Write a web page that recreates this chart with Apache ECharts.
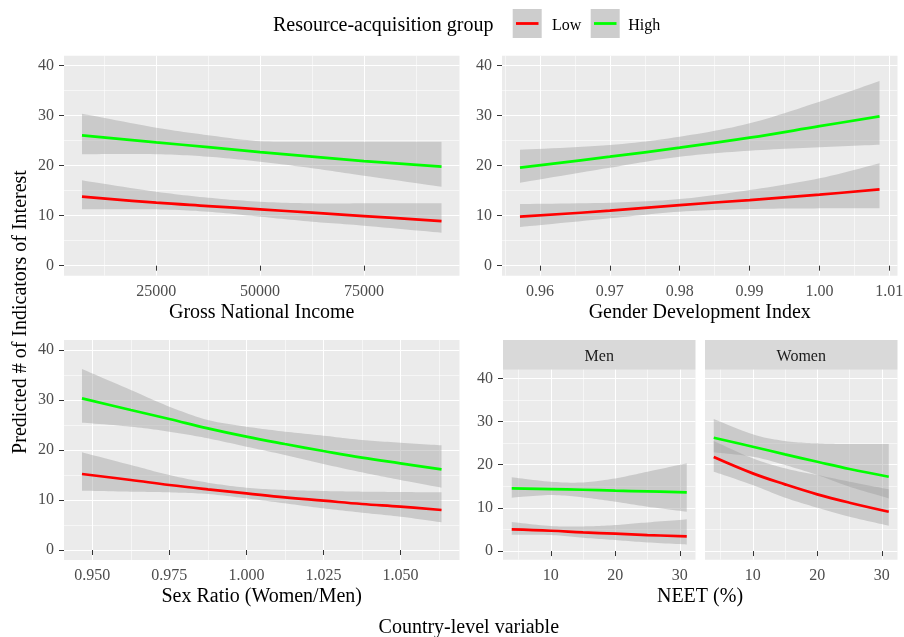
<!DOCTYPE html>
<html><head><meta charset="utf-8">
<script src="https://cdn.jsdelivr.net/npm/echarts@6/dist/echarts.min.js"></script>
<style>html,body{margin:0;padding:0;background:#fff}#chart{width:904px;height:637px}</style>
</head><body><div id="chart"></div>
<script>
// ---------- DATA ----------
// Panel: Gross National Income
const gniX        = [7130, 25000, 37500, 50000, 62500, 75000, 93670];
const gniLowFit   = [13.8, 12.6, 11.93, 11.27, 10.6, 9.93, 8.93];
const gniLowLwr   = [11.27, 11.27, 10.8, 9.8, 8.8, 8.0, 6.6];
const gniLowUpr   = [17.07, 14.8, 13.6, 12.8, 12.47, 12.47, 12.47];
const gniHighFit  = [26.07, 24.67, 23.7, 22.73, 21.8, 20.93, 19.8];
const gniHighLwr  = [22.3, 22.3, 21.8, 20.8, 19.5, 18.0, 15.8];
const gniHighUpr  = [30.4, 27.6, 26.1, 24.9, 24.8, 24.8, 24.8];

// Panel: Gender Development Index
const gdiX        = [0.95714, 0.97, 0.98, 0.99, 1.00, 1.00859];
const gdiLowFit   = [9.8, 11.0, 12.13, 13.13, 14.2, 15.27];
const gdiLowLwr   = [7.73, 9.47, 10.8, 11.33, 11.47, 11.47];
const gdiLowUpr   = [12.33, 12.6, 13.33, 15.13, 17.47, 20.47];
const gdiHighFit  = [19.6, 21.8, 23.6, 25.6, 27.9, 29.87];
const gdiHighLwr  = [16.6, 19.6, 21.8, 23.0, 23.67, 24.2];
const gdiHighUpr  = [23.2, 24.13, 25.8, 28.47, 32.8, 36.93];

// Panel: Sex Ratio (Women/Men)
const sexX        = [0.94664, 0.9625, 0.975, 0.9875, 1.0, 1.0125, 1.025, 1.0375, 1.05, 1.06334];
const sexLowFit   = [15.2, 14.0, 13.0, 12.13, 11.33, 10.53, 9.87, 9.2, 8.67, 8.0];
const sexLowLwr   = [11.87, 11.67, 11.53, 11.2, 10.33, 9.33, 8.33, 7.47, 6.67, 5.53];
const sexLowUpr   = [19.53, 17.0, 15.0, 13.47, 12.47, 12.0, 11.8, 11.67, 11.6, 11.53];
const sexHighFit  = [30.33, 28.0, 26.2, 24.33, 22.67, 21.2, 19.8, 18.47, 17.33, 16.13];
const sexHighLwr  = [25.47, 24.67, 23.67, 22.33, 20.67, 19.0, 17.2, 15.53, 14.0, 12.47];
const sexHighUpr  = [36.2, 32.0, 28.67, 26.0, 24.67, 23.67, 22.87, 22.0, 21.47, 20.93];

// Panel: NEET (%), facets Men / Women
const neetX          = [3.95, 10, 15, 20, 25, 31.08];
const menLowFit      = [5.02, 4.71, 4.32, 4.02, 3.71, 3.4];
const menLowLwr      = [3.78, 3.71, 3.09, 2.55, 2.0, 1.54];
const menLowUpr      = [6.72, 5.79, 5.71, 6.02, 6.64, 7.34];
const menHighFit     = [14.52, 14.36, 14.2, 13.98, 13.82, 13.59];
const menHighLwr     = [12.36, 12.97, 12.43, 11.43, 10.27, 9.11];
const menHighUpr     = [17.07, 16.06, 15.9, 16.83, 18.38, 20.31];
const womenLowFit    = [21.78, 17.99, 15.44, 13.13, 11.2, 9.11];
const womenLowLwr    = [18.38, 15.29, 12.36, 10.04, 7.95, 5.87];
const womenLowUpr    = [25.48, 21.47, 19.15, 17.61, 16.06, 14.29];
const womenHighFit   = [26.25, 24.17, 22.39, 20.69, 19.0, 17.22];
const womenHighLwr   = [22.86, 21.85, 19.92, 17.61, 14.9, 12.2];
const womenHighUpr   = [30.58, 27.03, 25.48, 24.94, 24.79, 24.79];

// Tick values
const yMajor    = [0, 10, 20, 30, 40];
const yMinor    = [5, 15, 25, 35];
const gniMajor  = [25000, 50000, 75000];
const gniMinor  = [12500, 37500, 62500, 87500];
const gdiMajor  = [0.96, 0.97, 0.98, 0.99, 1.00, 1.01];
const gdiMinor  = [0.955, 0.965, 0.975, 0.985, 0.995, 1.005];
const sexMajor  = [0.950, 0.975, 1.000, 1.025, 1.050];
const sexMinor  = [0.9625, 0.9875, 1.0125, 1.0375, 1.0625];
const neetMajor = [10, 20, 30];
const neetMinor = [5, 15, 25];

const groups = ['Low', 'High'];
const facets = ['Men', 'Women'];

// ---------- CHART ----------
const FONT = "'Liberation Serif', 'Times New Roman', serif";
const RED = '#FF0000', GREEN = '#00FF00';

const panels = [
  {grid:{left:64, top:55.7, width:395.5, height:220}, xMin:2803, xMax:97997, xMajor:gniMajor, xMinor:gniMinor, fmt:v=>String(Math.round(v)), yLab:true,
   x:gniX, low:[gniLowFit,gniLowLwr,gniLowUpr], high:[gniHighFit,gniHighLwr,gniHighUpr]},
  {grid:{left:502, top:55.7, width:395.5, height:220}, xMin:0.954568, xMax:1.011163, xMajor:gdiMajor, xMinor:gdiMinor, fmt:v=>v.toFixed(2), yLab:true,
   x:gdiX, low:[gdiLowFit,gdiLowLwr,gdiLowUpr], high:[gdiHighFit,gdiHighLwr,gdiHighUpr]},
  {grid:{left:64, top:340, width:395.5, height:220}, xMin:0.940805, xMax:1.069175, xMajor:sexMajor, xMinor:sexMinor, fmt:v=>v.toFixed(3), yLab:true,
   x:sexX, low:[sexLowFit,sexLowLwr,sexLowUpr], high:[sexHighFit,sexHighLwr,sexHighUpr]},
  {grid:{left:503, top:369.7, width:192.5, height:190}, xMin:2.5935, xMax:32.4365, xMajor:neetMajor, xMinor:neetMinor, fmt:v=>String(Math.round(v)), yLab:true,
   x:neetX, low:[menLowFit,menLowLwr,menLowUpr], high:[menHighFit,menHighLwr,menHighUpr]},
  {grid:{left:705, top:369.7, width:192.5, height:190}, xMin:2.5935, xMax:32.4365, xMajor:neetMajor, xMinor:neetMinor, fmt:v=>String(Math.round(v)), yLab:false,
   x:neetX, low:[womenLowFit,womenLowLwr,womenLowUpr], high:[womenHighFit,womenHighLwr,womenHighUpr]}
];

// Catmull-Rom smoothing of a pixel-space polyline (rendering only)
function smoothPts(pts) {
  const out = [];
  const n = pts.length;
  for (let i = 0; i < n - 1; i++) {
    const p0 = pts[Math.max(0, i - 1)], p1 = pts[i], p2 = pts[i + 1], p3 = pts[Math.min(n - 1, i + 2)];
    const steps = 12;
    for (let s = 0; s < steps; s++) {
      const t = s / steps, t2 = t * t, t3 = t2 * t;
      const f = (a, b, c, d) => 0.5 * ((2 * b) + (-a + c) * t + (2 * a - 5 * b + 4 * c - d) * t2 + (-a + 3 * b - 3 * c + d) * t3);
      out.push([f(p0[0], p1[0], p2[0], p3[0]), f(p0[1], p1[1], p2[1], p3[1])]);
    }
  }
  out.push(pts[n - 1]);
  return out;
}

function bandRender(params, api) {
  if (params.dataIndexInside !== 0) return null;
  const n = params.dataInsideLength;
  const up = [], lo = [];
  for (let j = 0; j < n; j++) {
    const x = api.value(0, j);
    up.push(api.coord([x, api.value(2, j)]));
    lo.push(api.coord([x, api.value(1, j)]));
  }
  const poly = smoothPts(up).concat(smoothPts(lo).reverse());
  return {type:'polygon', shape:{points:poly}, style:{fill:'rgba(153,153,153,0.4)'}, silent:true};
}

const grid = [], xAxis = [], yAxis = [], series = [];
const majorLine = {show:true, lineStyle:{color:'#FFFFFF', width:1.1}};
const minorLine = {show:true, lineStyle:{color:'#FFFFFF', width:0.55}};
const tickStyle = {color:'#333333', width:1};
const labStyle = {color:'#4D4D4D', fontSize:16, fontFamily:FONT};

panels.forEach((p, g) => {
  grid.push(Object.assign({show:true, backgroundColor:'#EBEBEB', borderWidth:0, outerBoundsMode:'none'}, p.grid));
  xAxis.push({type:'value', gridIndex:g, min:p.xMin, max:p.xMax, position:'bottom',
    axisLine:{show:false},
    axisTick:{show:true, length:5, lineStyle:tickStyle, customValues:p.xMajor},
    axisLabel:Object.assign({show:true, customValues:p.xMajor, formatter:p.fmt, margin:8, showMinLabel:true, showMaxLabel:true}, labStyle),
    splitLine:majorLine});
  xAxis.push({type:'value', gridIndex:g, min:p.xMin, max:p.xMax, position:'top',
    axisLine:{show:false}, axisTick:{show:false, customValues:p.xMinor}, axisLabel:{show:false}, splitLine:minorLine});
  yAxis.push({type:'value', gridIndex:g, min:-2, max:42, position:'left',
    axisLine:{show:false},
    axisTick:{show:p.yLab, length:5, lineStyle:tickStyle, customValues:yMajor},
    axisLabel:Object.assign({show:p.yLab, customValues:yMajor, margin:10, showMinLabel:true, showMaxLabel:true}, labStyle),
    splitLine:majorLine});
  yAxis.push({type:'value', gridIndex:g, min:-2, max:42, position:'right',
    axisLine:{show:false}, axisTick:{show:false, customValues:yMinor}, axisLabel:{show:false}, splitLine:minorLine});

  const ax = {xAxisIndex:2*g, yAxisIndex:2*g};
  [['Low', p.low, RED], ['High', p.high, GREEN]].forEach(([name, arr, col]) => {
    const [fit, lwr, upr] = arr;
    series.push(Object.assign({type:'custom', name:name+' CI', silent:true, renderItem:bandRender,
      encode:{x:0, y:[1, 2]}, data:p.x.map((x,i)=>[x, lwr[i], upr[i]]), z:2, clip:true}, ax));
    series.push(Object.assign({type:'line', name, symbol:'none', silent:true, smooth:0.4,
      data:p.x.map((x,i)=>[x, fit[i]]), lineStyle:{color:col, width:2.7}, z:3}, ax));
  });
});

function txt(text, x, y, size, opts) {
  return Object.assign({type:'text', x, y, silent:true,
    style:{text, fill:'#000000', fontSize:size, fontFamily:FONT, align:'center', verticalAlign:'middle'}}, opts || {});
}
function ltxt(text, x, y, size, fill) {
  return {type:'text', x, y, silent:true,
    style:{text, fill:fill || '#000000', fontSize:size, fontFamily:FONT, align:'left', verticalAlign:'middle'}};
}

const graphic = [
  // facet strips
  {type:'rect', shape:{x:503, y:340, width:192.5, height:29.7}, style:{fill:'#D9D9D9'}, silent:true},
  {type:'rect', shape:{x:705, y:340, width:192.5, height:29.7}, style:{fill:'#D9D9D9'}, silent:true},
  txt(facets[0], 599.25, 357, 16, {style:{text:facets[0], fill:'#1A1A1A', fontSize:16, fontFamily:FONT, align:'center', verticalAlign:'middle'}}),
  txt(facets[1], 801.25, 357, 16, {style:{text:facets[1], fill:'#1A1A1A', fontSize:16, fontFamily:FONT, align:'center', verticalAlign:'middle'}}),
  // axis titles
  txt('Gross National Income', 261.7, 313.2, 20),
  txt('Gender Development Index', 699.7, 313.2, 20),
  txt('Sex Ratio (Women/Men)', 261.7, 597.2, 20),
  txt('NEET (%)', 700, 597.2, 20),
  txt('Country-level variable', 468.8, 628, 20),
  txt('Predicted # of Indicators of Interest', 20.5, 312, 20, {rotation:Math.PI/2}),
  // legend
  ltxt('Resource-acquisition group', 273, 26, 20),
  {type:'rect', shape:{x:512.7, y:9, width:29, height:29}, style:{fill:'#CDCDCD'}, silent:true},
  {type:'line', shape:{x1:516, y1:23.5, x2:538.5, y2:23.5}, style:{stroke:RED, lineWidth:2.8}, silent:true},
  ltxt(groups[0], 552, 26, 16),
  {type:'rect', shape:{x:590.7, y:9, width:29, height:29}, style:{fill:'#CDCDCD'}, silent:true},
  {type:'line', shape:{x1:594, y1:23.5, x2:616.5, y2:23.5}, style:{stroke:GREEN, lineWidth:2.8}, silent:true},
  ltxt(groups[1], 628.3, 26, 16)
];

const chart = echarts.init(document.getElementById('chart'), null, {renderer:'canvas'});
chart.setOption({animation:false, backgroundColor:'#FFFFFF', grid, xAxis, yAxis, series, graphic});
</script>
</body></html>
